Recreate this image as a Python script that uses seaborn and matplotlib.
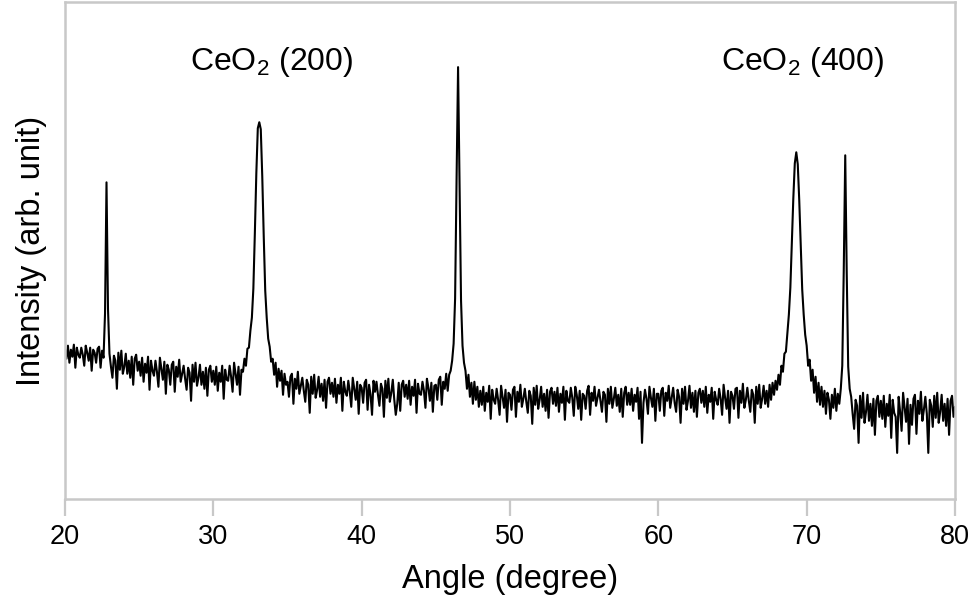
import numpy as np
import pandas as pd
import matplotlib
matplotlib.use("Agg")
import matplotlib.pyplot as plt
import seaborn as sns

# XRD scan: 20-80 deg, 0.1 deg step, intensity in arbitrary units
scan_start = 20.0
scan_step = 0.1

int_20s = [
    150, 140, 153, 136, 149, 142, 154, 131, 151, 144,
    141, 151, 144, 133, 153, 146, 138, 151, 128, 149,
    146, 136, 150, 152, 131, 148, 141, 185, 316, 190,
    145, 132, 121, 143, 138, 110, 146, 129, 148, 125,
    132, 145, 125, 138, 121, 142, 114, 140, 144, 128,
    137, 123, 141, 117, 135, 126, 142, 109, 138, 128,
    123, 138, 127, 112, 141, 130, 119, 137, 105, 134,
    129, 114, 134, 137, 107, 132, 122, 139, 117, 125,
    133, 120, 109, 131, 126, 98, 134, 117, 136, 113,
    121, 134, 114, 127, 110, 131, 103, 129, 133, 117,
]
int_30s = [
    128, 114, 132, 108, 126, 117, 133, 100, 129, 119,
    118, 133, 122, 107, 136, 125, 114, 132, 104, 129,
    127, 140, 133, 150, 151, 168, 181, 210, 265, 325,
    370, 376, 369, 322, 262, 208, 181, 160, 152, 137,
    140, 124, 136, 112, 130, 118, 128, 104, 125, 114,
    117, 102, 122, 125, 95, 120, 110, 127, 105, 113,
    121, 108, 97, 119, 114, 86, 122, 105, 124, 101,
    109, 122, 102, 115, 98, 119, 91, 117, 121, 105,
    116, 102, 120, 96, 114, 105, 121, 88, 117, 107,
    103, 118, 107, 92, 121, 110, 99, 117, 85, 114,
]
int_40s = [
    111, 96, 116, 119, 89, 114, 104, 84, 118, 107,
    117, 104, 93, 115, 110, 82, 118, 101, 120, 97,
    106, 119, 99, 84, 95, 116, 88, 114, 118, 102,
    114, 100, 118, 94, 112, 103, 119, 86, 115, 105,
    104, 117, 108, 91, 120, 111, 98, 116, 87, 113,
    114, 99, 119, 122, 94, 117, 110, 125, 108, 124,
    128, 138, 155, 200, 320, 431, 318, 198, 153, 136,
    128, 110, 124, 102, 116, 95, 117, 99, 112, 92,
    108, 94, 112, 88, 106, 97, 113, 80, 109, 99,
    95, 110, 99, 84, 113, 102, 91, 109, 77, 106,
]
int_50s = [
    104, 89, 109, 112, 82, 107, 97, 114, 92, 100,
    110, 97, 86, 108, 103, 75, 111, 94, 113, 90,
    99, 112, 92, 105, 88, 109, 81, 107, 111, 95,
    107, 93, 111, 87, 105, 96, 112, 79, 108, 98,
    96, 111, 101, 83, 112, 104, 90, 108, 79, 105,
    103, 90, 108, 113, 84, 106, 98, 112, 93, 101,
    109, 98, 87, 107, 104, 77, 110, 95, 112, 91,
    100, 111, 93, 104, 87, 110, 82, 106, 112, 94,
    106, 94, 110, 88, 104, 97, 111, 80, 107, 56,
    96, 109, 100, 85, 112, 101, 92, 110, 78, 105,
]
int_60s = [
    105, 88, 108, 111, 83, 106, 98, 113, 91, 101,
    111, 96, 87, 109, 102, 76, 110, 95, 112, 89,
    98, 113, 91, 106, 87, 108, 82, 106, 110, 96,
    108, 92, 112, 86, 104, 97, 111, 80, 107, 99,
    94, 110, 100, 84, 114, 101, 90, 108, 76, 107,
    103, 90, 110, 111, 81, 108, 96, 115, 91, 99,
    111, 98, 87, 109, 104, 76, 112, 95, 114, 91,
    100, 113, 95, 108, 92, 114, 99, 116, 104, 118,
    109, 124, 114, 133, 127, 145, 147, 166, 184, 211,
    255, 300, 335, 346, 334, 298, 254, 209, 184, 164,
]
int_70s = [
    153, 133, 139, 118, 129, 106, 122, 97, 116, 94,
    112, 92, 108, 85, 106, 99, 80, 104, 91, 110,
    88, 105, 95, 110, 133, 228, 343, 226, 132, 110,
    102, 85, 70, 99, 93, 56, 103, 81, 106, 76,
    87, 104, 78, 95, 73, 100, 64, 98, 103, 82,
    98, 80, 103, 72, 95, 83, 104, 61, 99, 86,
    82, 46, 102, 87, 68, 106, 91, 77, 100, 55,
    94, 74, 100, 104, 65, 98, 85, 107, 78, 89,
    102, 85, 46, 99, 93, 72, 103, 81, 106, 76,
    87, 104, 78, 95, 73, 100, 64, 98, 103, 82,
]
int_80 = [92]

peak_labels = ["CeO$_\\mathregular{2}$ (200)", "CeO$_\\mathregular{2}$ (400)"]
label_angles = [33.9, 69.7]
label_heights = [428, 428]

intensity = int_20s + int_30s + int_40s + int_50s + int_60s + int_70s + int_80
angle = np.round(scan_start + scan_step * np.arange(len(intensity)), 2)
df = pd.DataFrame({"angle": angle, "intensity": intensity})

sns.set_style("white")
plt.rcParams["font.family"] = ["Liberation Sans", "DejaVu Sans"]
plt.rcParams["mathtext.fontset"] = "custom"
plt.rcParams["mathtext.rm"] = "Liberation Sans"
plt.rcParams["text.color"] = "black"
plt.rcParams["axes.labelcolor"] = "black"
plt.rcParams["xtick.color"] = "black"

fig = plt.figure(figsize=(9.74, 6.02), dpi=100)
ax = fig.add_axes([0.0667, 0.1711, 0.9138, 0.8256])
sns.lineplot(data=df, x="angle", y="intensity", color="black",
             linewidth=1.5, estimator=None, ax=ax)

for txt, xa, ya in zip(peak_labels, label_angles, label_heights):
    ax.text(xa, ya, txt, fontsize=23, ha="center", va="baseline")

ax.set_xlim(20, 80)
ax.set_ylim(0, 496)
ax.set_xticks([20, 30, 40, 50, 60, 70, 80])
ax.set_yticks([])
ax.tick_params(axis="x", direction="out", length=12, width=1.6,
               color="#c8c8c8", labelcolor="black", labelsize=19.5, pad=6, bottom=True)
for s in ax.spines.values():
    s.set_color("#c8c8c8")
    s.set_linewidth(1.8)
ax.set_xlabel("Angle (degree)", fontsize=23.5, labelpad=10)
ax.set_ylabel("Intensity (arb. unit)", fontsize=23.5, labelpad=13)

fig.savefig("out.png", dpi=100)
